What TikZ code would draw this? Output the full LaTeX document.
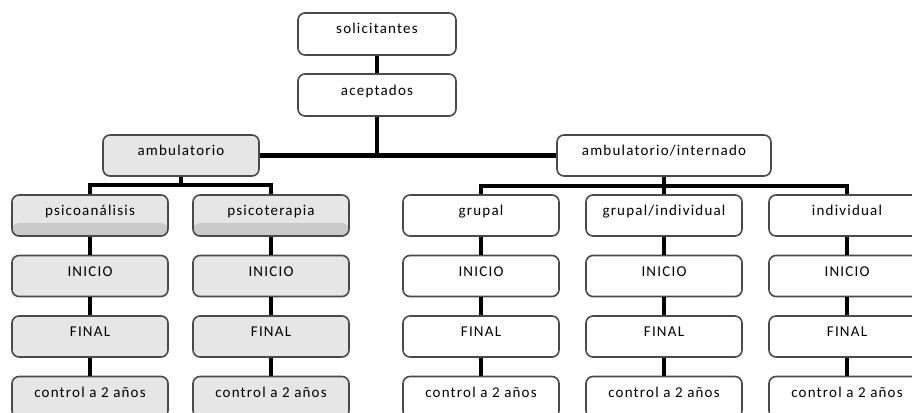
\documentclass[tikz,border=0pt]{standalone}
\usepackage{fontspec}
\setmainfont{Carlito}[LetterSpace=8]
\usetikzlibrary{calc}
\definecolor{boxgray}{HTML}{E6E6E6}
\definecolor{bandgray}{HTML}{C9C9C9}
\definecolor{edge}{HTML}{4A4A4A}
\tikzset{
  box/.style={draw=edge, line width=1.6pt, rounded corners=7pt, fill=white,
    minimum width=156pt, minimum height=41pt, inner sep=0pt,
    text height=8pt, text depth=8pt,
    font=\fontsize{15}{18}\selectfont},
  graybox/.style={box, fill=boxgray},
  bandbox/.style={graybox, path picture={
    \fill[bandgray] (path picture bounding box.south west) rectangle
      ([yshift=13pt]path picture bounding box.south east);}},
  conn/.style={line width=4.5pt, black, line join=miter}
}
\begin{document}
\begin{tikzpicture}[x=1pt,y=-1pt]
\useasboundingbox (0,0) rectangle (912,412);
\clip (0,0) rectangle (912,412);
% top
\node[box, minimum width=158pt, minimum height=42pt] (sol) at (377,34) {solicitantes};
\node[box, minimum width=158pt, minimum height=42pt] (acc) at (377,95) {aceptados};
\node[graybox] (amb) at (181,155.5) {ambulatorio};
\node[box, minimum width=214pt] (int) at (664,155.5) {ambulatorio/internado};
% left columns
\node[bandbox] (pa) at (90,215.5) {psicoanálisis};
\node[bandbox] (pt) at (271,215.5) {psicoterapia};
\node[graybox] (pa1) at (90,276) {INICIO};
\node[graybox] (pt1) at (271,276) {INICIO};
\node[graybox] (pa2) at (90,336.5) {FINAL};
\node[graybox] (pt2) at (271,336.5) {FINAL};
\node[graybox] (pa3) at (90,397) {control a 2 años};
\node[graybox] (pt3) at (271,397) {control a 2 años};
% right columns
\node[box] (gr) at (481,215.5) {grupal};
\node[box] (gi) at (664,215.5) {grupal/individual};
\node[box] (in) at (847,215.5) {individual};
\node[box] (gr1) at (481,276) {INICIO};
\node[box] (gi1) at (664,276) {INICIO};
\node[box] (in1) at (847,276) {INICIO};
\node[box] (gr2) at (481,336.5) {FINAL};
\node[box] (gi2) at (664,336.5) {FINAL};
\node[box] (in2) at (847,336.5) {FINAL};
\node[box] (gr3) at (481,397) {control a 2 años};
\node[box] (gi3) at (664,397) {control a 2 años};
\node[box] (in3) at (847,397) {control a 2 años};
% connectors
\coordinate (lb) at (181,185);
\coordinate (rb) at (664,186);
\draw[conn] (sol) -- (acc);
\draw[conn] (acc) -- (acc |- amb);
\draw[conn] (amb) -- (int);
\draw[conn] (amb) -- (lb);
\draw[conn] (pa) |- (lb) -| (pt);
\draw[conn] (int) -- (rb);
\draw[conn] (gr) |- (rb) -| (in);
\draw[conn] (rb) -- (gi);
\foreach \c in {pa,pt,gr,gi,in}{
  \draw[conn] (\c) -- (\c1);
  \draw[conn] (\c1) -- (\c2);
  \draw[conn] (\c2) -- (\c3);
}
\end{tikzpicture}
\end{document}
